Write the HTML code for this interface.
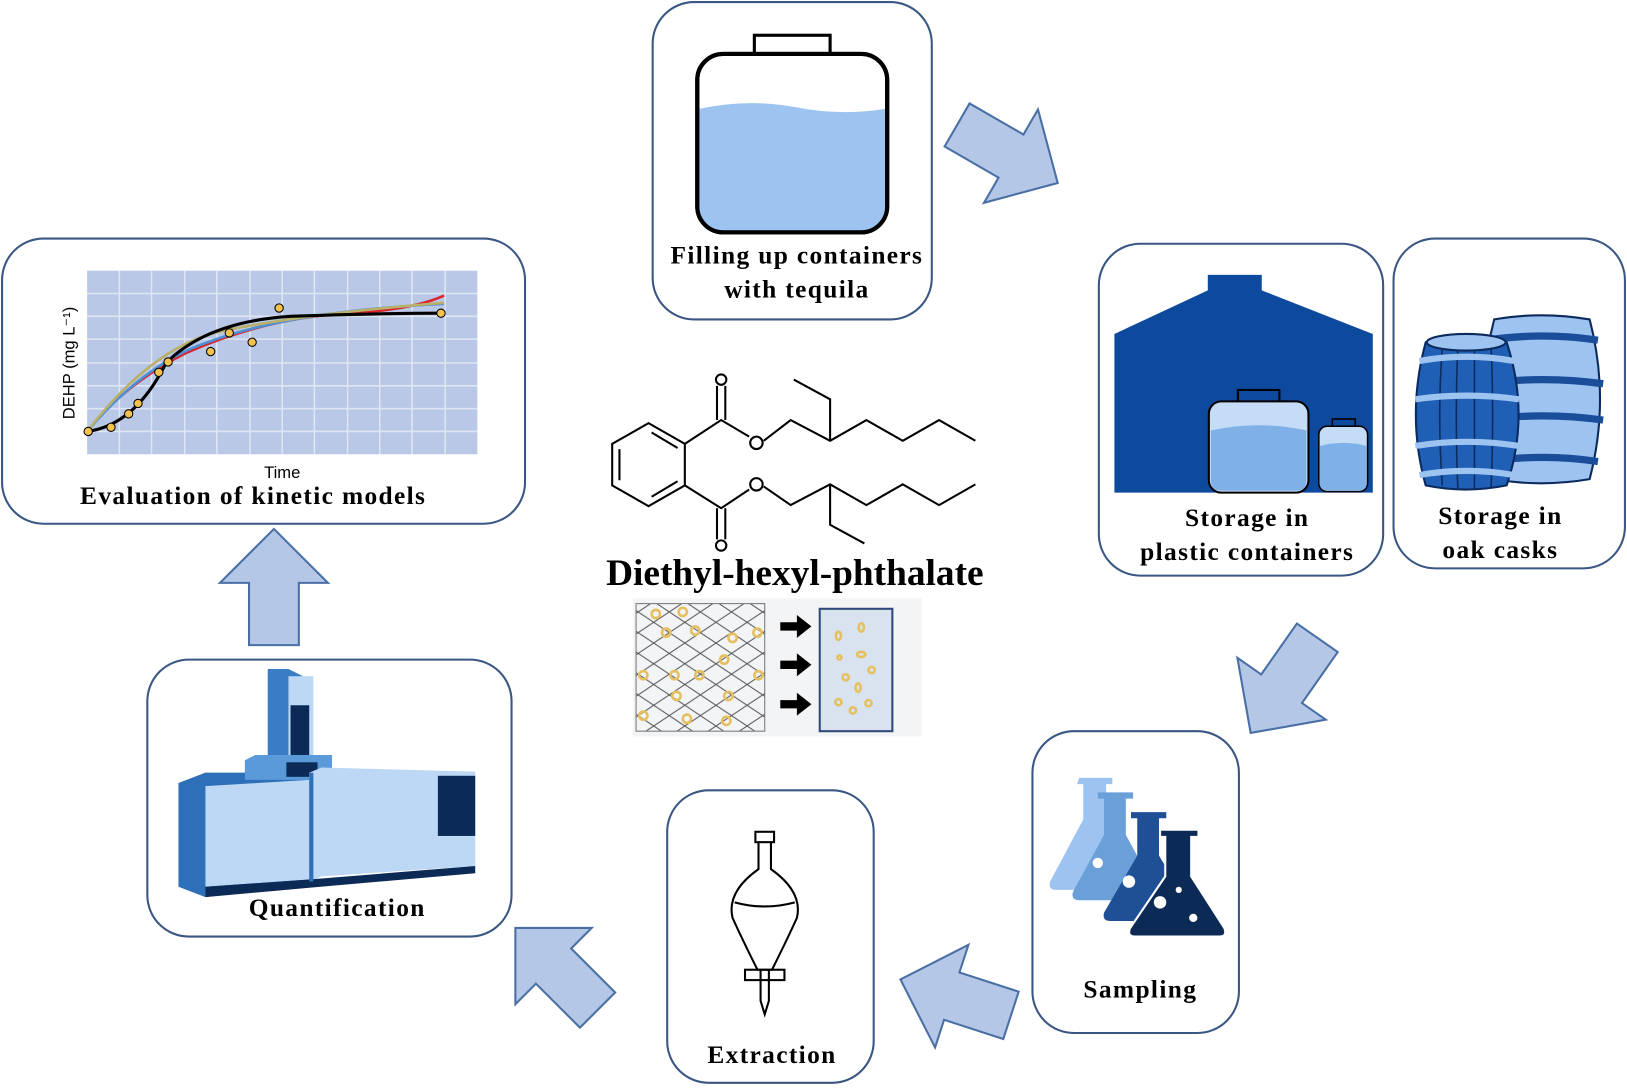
<!DOCTYPE html>
<html><head><meta charset="utf-8"><style>
html,body{margin:0;padding:0;background:#fff;}
svg{display:block;}
text{font-family:"Liberation Serif",serif;font-weight:bold;fill:#000;}
.lb{font-size:24.5px;letter-spacing:1.3px;}
</style></head><body>
<svg width="1627" height="1089" viewBox="0 0 1568 1050" preserveAspectRatio="none" xmlns="http://www.w3.org/2000/svg">
<defs>
<polygon id="arr" points="-55,-24 5,-24 5,-52 57,0 5,52 5,24 -55,24" fill="#b4c7e7" stroke="#4a6fa5" stroke-width="2"/>
<pattern id="mesh" width="30" height="20" patternUnits="userSpaceOnUse">
<path d="M0,0 L30,20 M30,0 L0,20" stroke="#555" stroke-width="1"/>
</pattern>
</defs>

<g fill="#fff" stroke="#3a5683" stroke-width="2">
<rect x="629" y="2" width="269" height="306" rx="40"/>
<rect x="1059" y="235" width="274" height="320" rx="40"/>
<rect x="1343" y="230" width="223" height="318" rx="40"/>
<rect x="995" y="705" width="199" height="291" rx="40"/>
<rect x="643" y="762" width="199" height="282" rx="40"/>
<rect x="142" y="636" width="351" height="267" rx="40"/>
<rect x="2" y="230" width="504" height="275" rx="40"/>
</g>

<use href="#arr" transform="translate(970,148) rotate(30)"/>
<use href="#arr" transform="translate(1238,660) rotate(125)"/>
<use href="#arr" transform="translate(922,962) rotate(198)"/>
<use href="#arr" transform="translate(537,935) rotate(225)"/>
<use href="#arr" transform="translate(264,567) rotate(-90)"/>

<rect x="727" y="34" width="73" height="18" fill="#fff" stroke="#000" stroke-width="3"/>
<rect x="672" y="52" width="183" height="172" rx="25" fill="#fff" stroke="#000" stroke-width="4"/>
<path d="M674,105 Q720,95 765,103 Q810,112 853,105 L853,200 Q853,222 830,222 L697,222 Q674,222 674,200 Z" fill="#9dc3f0"/>
<rect x="672" y="52" width="183" height="172" rx="25" fill="none" stroke="#000" stroke-width="4"/>
<text x="768" y="254" class="lb" text-anchor="middle">Filling up containers</text>
<text x="768" y="287" class="lb" text-anchor="middle">with tequila</text>

<polygon points="1074,322 1164,280 1164,265 1216,265 1216,280 1323,322 1323,475 1074,475" fill="#0d4a9e"/>
<rect x="1193" y="376" width="40" height="12" fill="#0d4a9e" stroke="#000" stroke-width="2"/>
<rect x="1165" y="387" width="96" height="88" rx="12" fill="#c4dcf5" stroke="#000" stroke-width="2"/>
<path d="M1167,415 Q1213,405 1259,415 L1259,463 Q1259,473 1249,473 L1177,473 Q1167,473 1167,463 Z" fill="#7fb0e8"/>
<rect x="1284" y="404" width="22" height="8" fill="#0d4a9e" stroke="#000" stroke-width="1.5"/>
<rect x="1271" y="411" width="47" height="63" rx="8" fill="#c4dcf5" stroke="#000" stroke-width="1.5"/>
<path d="M1272,430 Q1295,424 1317,430 L1317,466 Q1317,473 1310,473 L1279,473 Q1272,473 1272,466 Z" fill="#7fb0e8"/>
<text x="1202" y="507" class="lb" text-anchor="middle">Storage in</text>
<text x="1202" y="540" class="lb" text-anchor="middle">plastic containers</text>

<g stroke="#0b2a5e" stroke-width="2">
<path d="M1440,308 Q1485,300 1532,308 Q1552,385 1532,462 Q1485,470 1440,462 Q1420,385 1440,308 Z" fill="#9dc3f0"/>
<path d="M1433,328 Q1486,320 1540,328 M1430,370 Q1486,362 1545,370 M1430,405 Q1486,397 1545,405 M1433,445 Q1486,437 1540,445" fill="none" stroke="#1a4d9a" stroke-width="7"/>
<path d="M1374,330 Q1412,322 1452,330 Q1475,400 1452,468 Q1412,476 1374,468 Q1355,400 1374,330 Z" fill="#1f5fb5"/>
<path d="M1390,335 Q1385,400 1390,468 M1405,334 Q1402,400 1405,472 M1421,334 Q1421,400 1421,472 M1437,334 Q1440,400 1437,470" fill="none" stroke="#0b2a5e" stroke-width="1.5"/>
<ellipse cx="1413" cy="330" rx="38" ry="8" fill="#9dc3f0"/>
<path d="M1368,348 Q1413,340 1459,348 M1364,385 Q1413,378 1464,385 M1364,430 Q1413,422 1464,430 M1368,458 Q1413,450 1459,458" fill="none" stroke="#9dc3f0" stroke-width="6"/>
</g>
<text x="1446" y="505" class="lb" text-anchor="middle">Storage in</text>
<text x="1446" y="538" class="lb" text-anchor="middle">oak casks</text>

<g>
<path d="M1040,750 L1072,750 L1072,756 L1066,756 L1066,790 L1096,850 Q1098,858 1090,858 L1018,858 Q1010,858 1012,850 L1044,790 L1044,756 L1038,756 Z" fill="#9dc3f0"/>
<path d="M1058,764 L1092,764 L1092,770 L1085,770 L1085,805 L1115,860 Q1117,868 1110,868 L1040,868 Q1032,868 1034,860 L1064,805 L1064,770 L1058,770 Z" fill="#6a9fd8"/>
<path d="M1090,783 L1124,783 L1124,789 L1117,789 L1117,825 L1150,880 Q1152,888 1144,888 L1070,888 Q1062,888 1064,880 L1096,825 L1096,789 L1090,789 Z" fill="#1f5096"/>
<path d="M1118,800 L1155,800 L1155,807 L1148,807 L1148,845 L1180,895 Q1183,903 1175,903 L1094,903 Q1086,903 1089,895 L1123,845 L1123,807 L1118,807 Z" fill="#0b2a55" stroke="#fff" stroke-width="2"/>
<circle cx="1118" cy="870" r="6" fill="#fff"/><circle cx="1136" cy="858" r="3" fill="#fff"/><circle cx="1150" cy="885" r="4" fill="#fff"/><circle cx="1088" cy="850" r="6" fill="#fff"/><circle cx="1058" cy="832" r="5" fill="#fff"/>
</g>
<text x="1099" y="962" class="lb" text-anchor="middle">Sampling</text>

<g fill="none" stroke="#000" stroke-width="2">
<rect x="728" y="802" width="18" height="10"/>
<path d="M731,812 L731,838 Q700,860 706,885 Q715,905 730,935 L744,935 Q759,905 768,885 Q774,860 743,838 L743,812"/>
<path d="M733,935 L733,965 L737,978 L741,965 L741,935"/>
<rect x="718" y="935" width="38" height="10"/>
<path d="M708,870 Q737,878 766,870"/>
</g>
<text x="744" y="1025" class="lb" text-anchor="middle">Extraction</text>

<g>
<polygon points="258,645 278,645 298,655 298,735 258,735" fill="#3b7dc4"/>
<rect x="278" y="652" width="24" height="80" fill="#bcd8f5"/>
<rect x="280" y="680" width="18" height="48" fill="#0b2a55"/>
<polygon points="172,755 198,745 298,745 298,850 198,865 172,855" fill="#2d6fb8"/>
<polygon points="198,758 298,752 298,848 198,855" fill="#bcd8f5"/>
<polygon points="236,733 246,728 320,728 320,752 236,752" fill="#5a9ad8"/>
<rect x="276" y="735" width="30" height="14" fill="#0b2a55"/>
<polygon points="298,745 310,740 458,744 458,835 310,845 298,850" fill="#bcd8f5"/>
<polygon points="198,855 298,848 458,835 458,842 298,856 198,865" fill="#0b2a55"/>
<rect x="422" y="748" width="36" height="58" fill="#0b2a55"/>
<rect x="298" y="745" width="4" height="105" fill="#2d6fb8"/>
</g>
<text x="325" y="883" class="lb" text-anchor="middle">Quantification</text>

<rect x="84" y="261" width="376" height="177" fill="#b9c8e6"/>
<g stroke="#dfe6f3" stroke-width="1.5">
<path d="M115,261V438M146,261V438M178,261V438M209,261V438M241,261V438M272,261V438M303,261V438M335,261V438M366,261V438M397,261V438M429,261V438"/>
<path d="M84,283H460M84,305H460M84,327H460M84,350H460M84,372H460M84,394H460M84,416H460"/>
</g>
<g fill="none" stroke-width="2.5">
<path d="M84,416 Q120,370 180,340 Q260,305 340,302 Q400,298 428,285" stroke="#d9252b"/>
<path d="M84,416 Q140,350 200,330 Q280,300 428,293" stroke="#4f8fd6"/>
<path d="M84,416 Q150,330 220,318 Q300,302 428,292" stroke="#b9b06a"/>
<path d="M84,416 Q130,410 160,350 Q200,310 280,305 Q360,302 428,302" stroke="#000" stroke-width="3"/>
</g>
<g fill="#f2c14e" stroke="#000" stroke-width="1">
<circle cx="85" cy="416" r="4"/><circle cx="107" cy="412" r="4"/><circle cx="124" cy="399" r="4"/><circle cx="133" cy="389" r="4"/><circle cx="153" cy="359" r="4"/><circle cx="162" cy="349" r="4"/><circle cx="203" cy="339" r="4"/><circle cx="221" cy="321" r="4"/><circle cx="243" cy="330" r="4"/><circle cx="269" cy="297" r="4"/><circle cx="425" cy="302" r="4"/>
</g>
<text x="72" y="350" font-size="16" transform="rotate(-90 72 350)" text-anchor="middle" style="font-family:'Liberation Sans',sans-serif;font-weight:normal">DEHP (mg L⁻¹)</text>
<text x="272" y="461" font-size="16" text-anchor="middle" style="font-family:'Liberation Sans',sans-serif;font-weight:normal">Time</text>
<text x="244" y="486" class="lb" text-anchor="middle">Evaluation  of kinetic models</text>

<g fill="none" stroke="#000" stroke-width="2">
<polygon points="625,408 660,428 660,468 625,488 590,468 590,428"/>
<path d="M597,433 L597,463 M628,417 L653,432 M628,479 L653,464"/>
<path d="M660,428 L695,405 L722,421 M691,405 L691,372 M699,405 L699,372"/>
<circle cx="695" cy="366" r="5"/>
<circle cx="729" cy="427" r="6"/>
<path d="M736,425 L762,405 L800,425 L835,405 L870,425 L905,405 L940,425 M800,425 L800,385 L765,366"/>
<path d="M660,468 L695,490 L722,472 M691,490 L691,520 M699,490 L699,520"/>
<circle cx="695" cy="526" r="5"/>
<circle cx="729" cy="467" r="6"/>
<path d="M736,469 L762,487 L800,467 L835,487 L870,467 L905,487 L940,467 M800,467 L800,506 L833,524"/>
</g>
<text x="766" y="564" font-size="36" text-anchor="middle">Diethyl-hexyl-phthalate</text>

<rect x="610" y="577" width="278" height="133" fill="#f3f4f6"/>
<rect x="613" y="582" width="124" height="123" fill="url(#mesh)" stroke="#777" stroke-width="1"/>
<rect x="790" y="587" width="70" height="118" fill="#d9e2ef" stroke="#2f4a7a" stroke-width="2"/>
<g fill="none" stroke="#e6c060" stroke-width="2.5">
<circle cx="632" cy="592" r="4"/><circle cx="658" cy="590" r="4"/><circle cx="706" cy="615" r="4"/><circle cx="642" cy="610" r="4"/><circle cx="670" cy="608" r="4"/><circle cx="730" cy="610" r="4"/><circle cx="698" cy="636" r="4"/><circle cx="620" cy="651" r="4"/><circle cx="650" cy="651" r="4"/><circle cx="674" cy="651" r="4"/><circle cx="731" cy="651" r="4"/><circle cx="652" cy="671" r="4"/><circle cx="702" cy="671" r="4"/><circle cx="620" cy="690" r="4"/><circle cx="662" cy="693" r="4"/><circle cx="700" cy="695" r="4"/>
<ellipse cx="808" cy="613" rx="2.5" ry="4"/><ellipse cx="830" cy="605" rx="2.5" ry="4"/><ellipse cx="830" cy="631" rx="4" ry="2.5"/><circle cx="809" cy="634" r="2"/><circle cx="815" cy="653" r="3"/><circle cx="840" cy="646" r="3"/><ellipse cx="827" cy="663" rx="2.5" ry="4"/><circle cx="808" cy="677" r="3"/><circle cx="822" cy="685" r="3"/><circle cx="837" cy="678" r="3"/>
</g>
<g fill="#000">
<polygon points="752,600 768,600 768,593 782,604 768,615 768,608 752,608"/>
<polygon points="752,637 768,637 768,630 782,641 768,652 768,645 752,645"/>
<polygon points="752,675 768,675 768,668 782,679 768,690 768,683 752,683"/>
</g>
</svg>
</body></html>
